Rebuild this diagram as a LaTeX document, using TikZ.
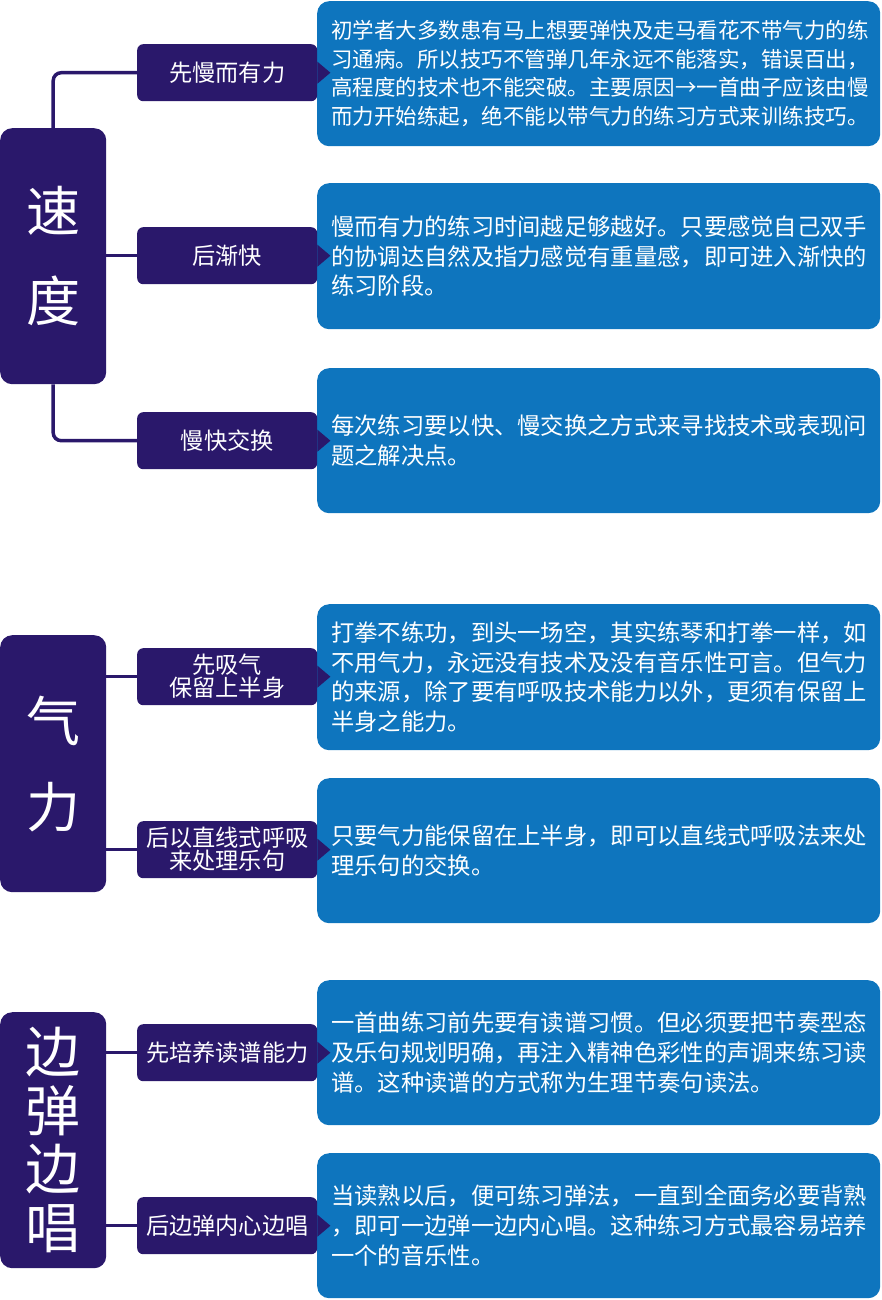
\documentclass[tikz,border=0pt]{standalone}
\usepackage{fontspec}
\setmainfont{Noto Sans CJK SC}
\usetikzlibrary{calc}
\definecolor{navy}{RGB}{42,24,107}
\definecolor{bluebg}{RGB}{14,117,190}
\tikzset{
  topic/.style={fill=navy, rounded corners=12pt, minimum width=106pt, text=white, align=center, inner sep=0pt, anchor=north west},
  sub/.style={fill=navy, rounded corners=6pt, minimum width=180pt, minimum height=57pt, text=white, align=center, inner sep=0pt, anchor=north west, font=\fontsize{23.2}{23}\selectfont},
  desc/.style={fill=bluebg, rounded corners=12pt, minimum width=563pt, text width=535pt, inner xsep=14pt, inner ysep=0pt, text=white, align=left, anchor=north west, font=\fontsize{23.3}{29.8}\selectfont},
  link/.style={draw=navy, line width=3.5pt, rounded corners=8pt},
}
\newcommand{\pointer}[1]{\fill[navy] ($(#1.east)+(0,11)$) -- ($(#1.east)+(13,0)$) -- ($(#1.east)+(0,-11)$) -- cycle;}
\begin{document}
\begin{tikzpicture}[x=1pt,y=-1pt]
\useasboundingbox (0,0) rectangle (882,1300);
% description boxes
\node[desc, minimum height=145pt, font=\fontsize{21.5}{28.5}\selectfont] (b1) at (317,1) {初学者大多数患有马上想要弹快及走马看花不带气力的练\\习通病。所以技巧不管弹几年永远不能落实，错误百出，\\高程度的技术也不能突破。主要原因→一首曲子应该由慢\\而力开始练起，绝不能以带气力的练习方式来训练技巧。};
\node[desc, minimum height=146pt] (b2) at (317,183) {慢而有力的练习时间越足够越好。只要感觉自己双手\\的协调达自然及指力感觉有重量感，即可进入渐快的\\练习阶段。};
\node[desc, minimum height=145pt] (b3) at (317,368) {每次练习要以快、慢交换之方式来寻找技术或表现问\\题之解决点。};
\node[desc, minimum height=146pt] (b4) at (317,604) {打拳不练功，到头一场空，其实练琴和打拳一样，如\\不用气力，永远没有技术及没有音乐性可言。但气力\\的来源，除了要有呼吸技术能力以外，更须有保留上\\半身之能力。};
\node[desc, minimum height=145pt] (b5) at (317,778) {只要气力能保留在上半身，即可以直线式呼吸法来处\\理乐句的交换。};
\node[desc, minimum height=145pt] (b6) at (317,980) {一首曲练习前先要有读谱习惯。但必须要把节奏型态\\及乐句规划明确，再注入精神色彩性的声调来练习读\\谱。这种读谱的方式称为生理节奏句读法。};
\node[desc, minimum height=145pt] (b7) at (317,1153) {当读熟以后，便可练习弹法，一直到全面务必要背熟\\，即可一边弹一边内心唱。这种练习方式最容易培养\\一个的音乐性。};
% topic boxes
\node[topic, minimum height=256pt, font=\fontsize{54}{90}\selectfont] (t1) at (0,128) {速\\度};
\node[topic, minimum height=257pt, font=\fontsize{54}{86}\selectfont] (t2) at (0,635) {气\\力};
\node[topic, minimum height=256pt, font=\fontsize{55}{58.5}\selectfont] (t3) at (0,1012) {边\\弹\\边\\唱};
% sub boxes
\node[sub] (m1) at (137,44) {先慢而有力};
\node[sub] (m2) at (137,227) {后渐快};
\node[sub] (m3) at (137,412) {慢快交换};
\node[sub] (m4) at (137,648) {先吸气\\保留上半身};
\node[sub] (m5) at (137,821) {后以直线式呼吸\\来处理乐句};
\node[sub] (m6) at (137,1024) {先培养读谱能力};
\node[sub] (m7) at (137,1197) {后边弹内心边唱};
% connectors
\draw[link] (t1.north) |- (m1.west);
\draw[link] (t1.east |- m2.west) -- (m2.west);
\draw[link] (t1.south) |- (m3.west);
\draw[link] (t2.east |- m4.west) -- (m4.west);
\draw[link] (t2.east |- m5.west) -- (m5.west);
\draw[link] (t3.east |- m6.west) -- (m6.west);
\draw[link] (t3.east |- m7.west) -- (m7.west);
% pointers
\pointer{m1}\pointer{m2}\pointer{m3}\pointer{m4}\pointer{m5}\pointer{m6}\pointer{m7}
\end{tikzpicture}
\end{document}
